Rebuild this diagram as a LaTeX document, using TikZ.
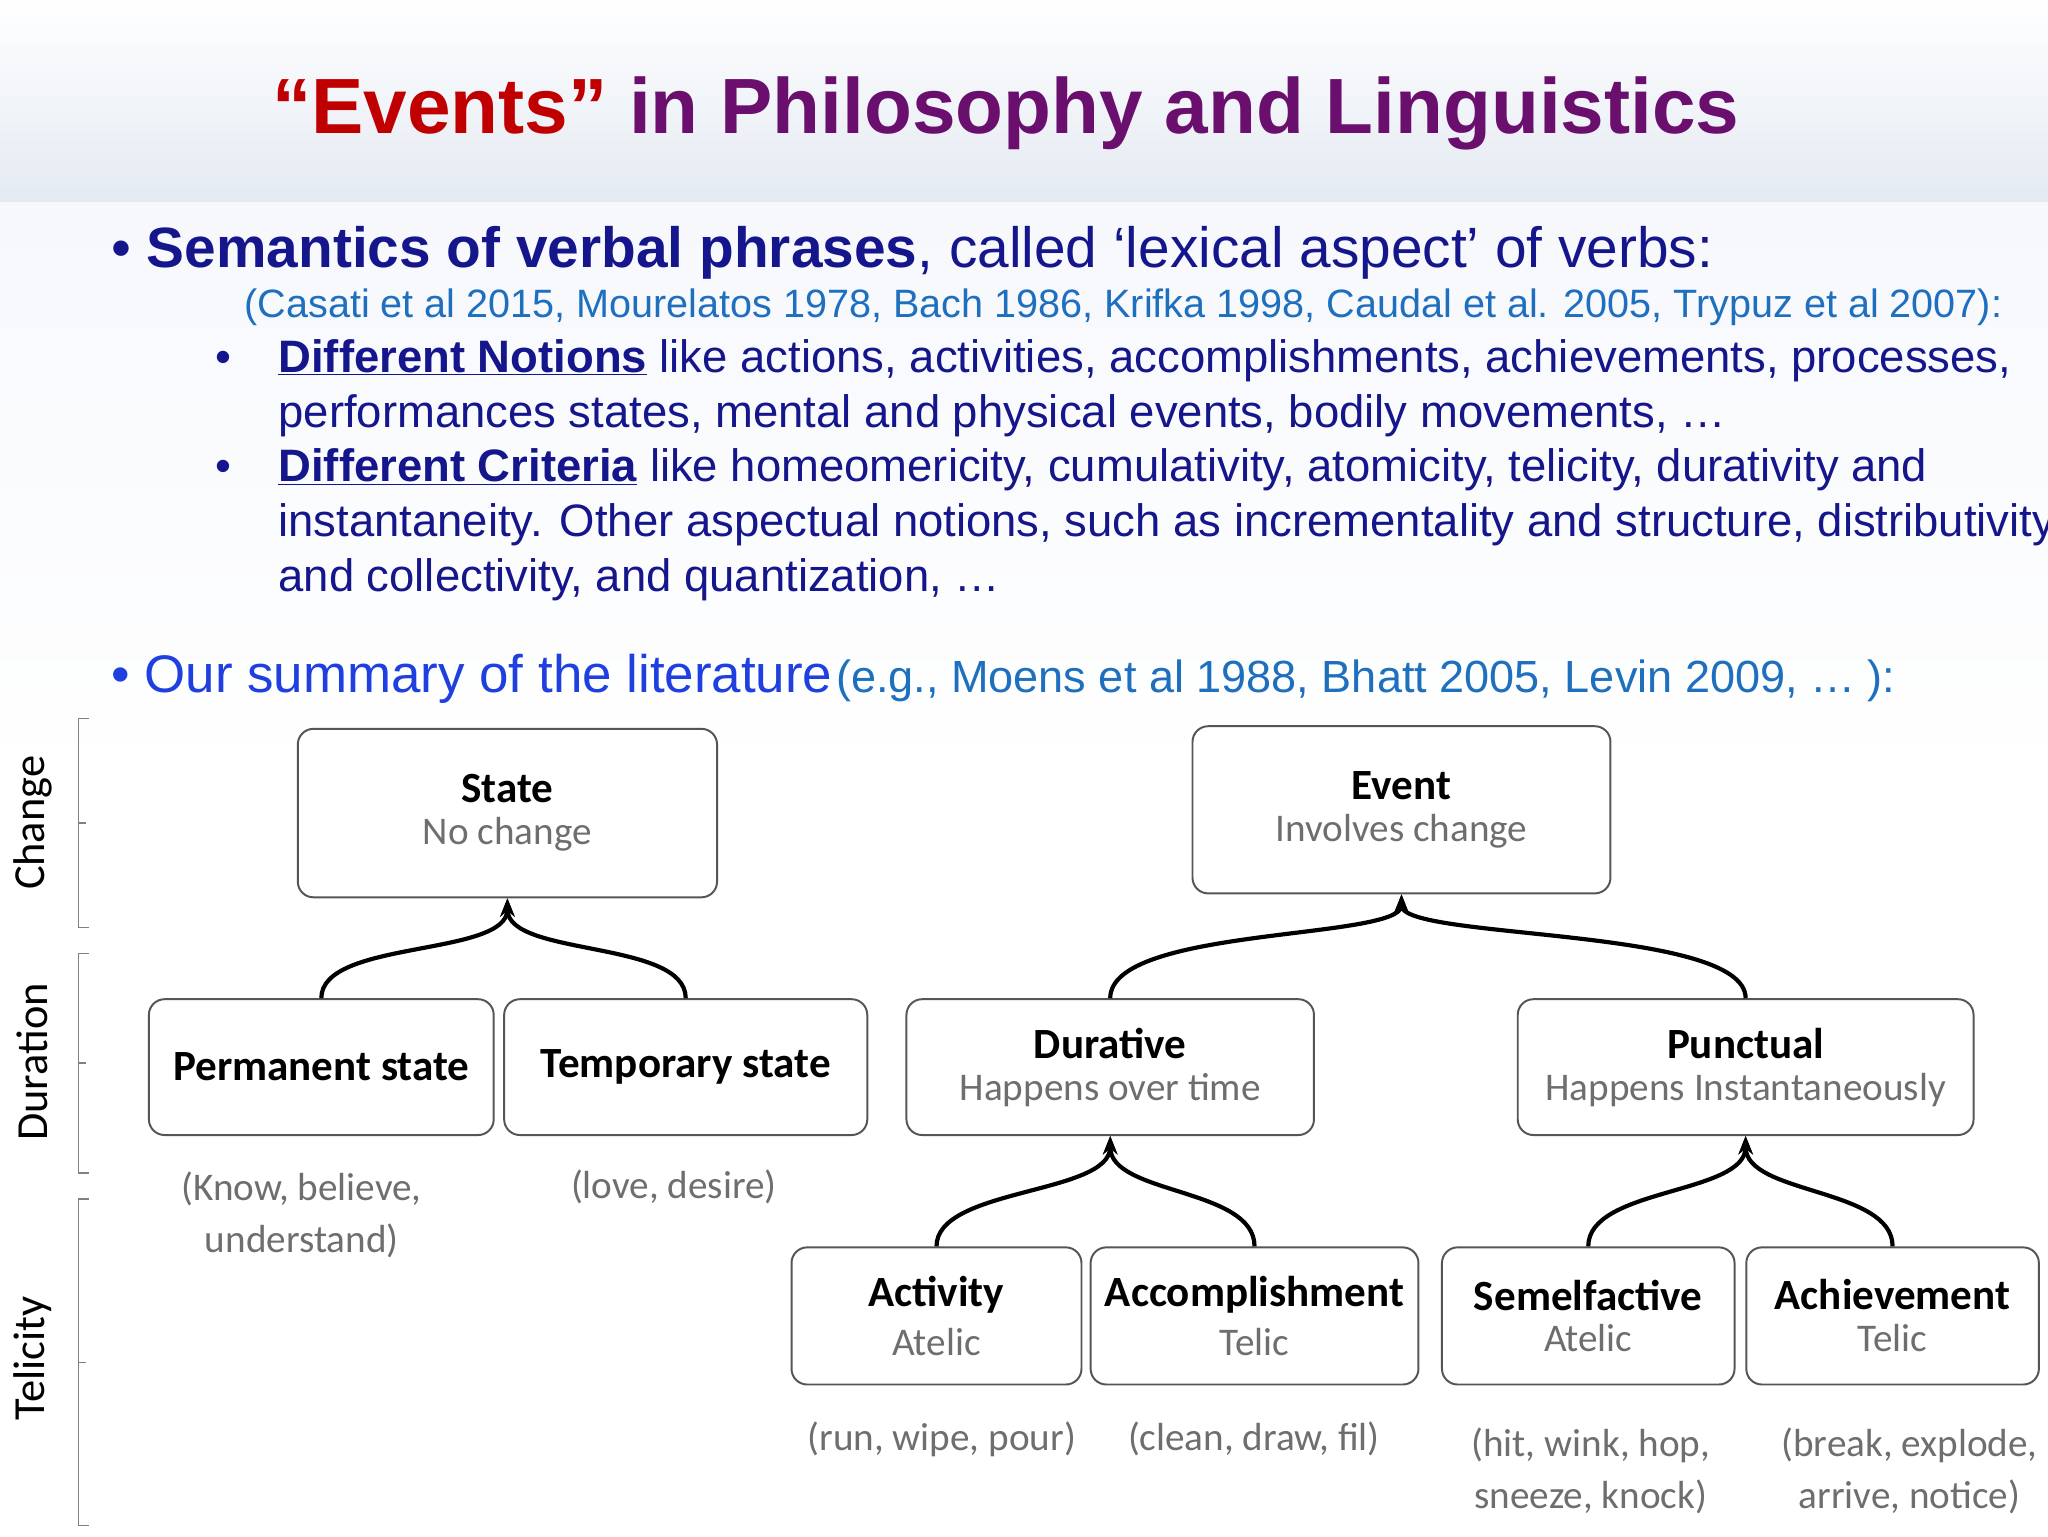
\documentclass[tikz,border=0pt]{standalone}
\usepackage{fontspec}
\setmainfont{Liberation Sans}
\newfontfamily\carl{Carlito}
\definecolor{ttlred}{HTML}{C00000}
\definecolor{ttlpur}{HTML}{6A0F6E}
\definecolor{dblue}{HTML}{16168C}
\definecolor{cblue}{HTML}{1F6FBF}
\definecolor{sblue}{HTML}{1F3FE0}
\definecolor{bxgray}{HTML}{555555}
\definecolor{subgray}{HTML}{6E6E6E}
\usetikzlibrary{arrows.meta}
\tikzset{
  box/.style={draw=bxgray, line width=1.5pt, rounded corners=12pt, fill=white, align=center, inner sep=0pt},
  arr/.style={-{Stealth[length=14pt,width=11pt]}, line width=3.2pt, black},
  ex/.style={text=subgray, align=center, font=\carl\fontsize{30}{40}\selectfont},
  lab/.style={rotate=90, font=\carl\fontsize{34}{40}\selectfont, text=black},
  brk/.style={draw=gray, line width=1.2pt}
}
\newcommand{\bt}[1]{{\carl\bfseries\fontsize{33}{40}\selectfont #1}}
\newcommand{\bs}[1]{{\carl\color{subgray}\fontsize{30}{40}\selectfont #1}}
\begin{document}
\begin{tikzpicture}[x=1pt,y=-1pt]
\useasboundingbox (0,0) rectangle (1568,1176);
\fill[white] (0,0) rectangle (1568,1176);
\fill[top color=white, bottom color={rgb,255:red,228;green,234;blue,242}] (0,0) rectangle (1568,155);
\fill[top color={rgb,255:red,246;green,248;blue,252}, bottom color=white] (0,155) rectangle (1568,600);
\node[anchor=base, inner sep=0pt, font=\bfseries\fontsize{60}{66}\selectfont] (title) at (770,102)
 {\textcolor{ttlred}{“Events”} \textcolor{ttlpur}{in Philosophy and Linguistics}};
\node[anchor=base west, inner sep=0pt, text=dblue, font=\fontsize{43.5}{48}\selectfont] (b1) at (85,205)
 {• \textbf{Semantics of verbal phrases}, called ‘lexical aspect’ of verbs:};
\node[anchor=base west, inner sep=0pt, text=cblue, font=\fontsize{30.3}{34}\selectfont] (cit) at (187,243)
 {(Casati et al 2015, Mourelatos 1978, Bach 1986, Krifka 1998, Caudal et al. 2005, Trypuz et al 2007):};
\begin{scope}[every node/.style={anchor=base west, inner sep=0pt, text=dblue, font=\fontsize{34.8}{38}\selectfont}]
\node (d1) at (165,285) {•};
\node (l1) at (213,285) {\underline{\textbf{Different Notions}} like actions, activities, accomplishments, achievements, processes,};
\node (l2) at (213,327) {performances states, mental and physical events, bodily movements, …};
\node (d2) at (165,369) {•};
\node (l3) at (213,369) {\underline{\textbf{Different Criteria}} like homeomericity, cumulativity, atomicity, telicity, durativity and};
\node (l4) at (213,411) {instantaneity. Other aspectual notions, such as incrementality and structure, distributivity};
\node (l5) at (213,453) {and collectivity, and quantization, …};
\end{scope}
\node[anchor=base west, inner sep=0pt] (b2) at (85,530)
 {\textcolor{sblue}{\fontsize{40.5}{44}\selectfont • Our summary of the literature} \textcolor{cblue}{\fontsize{34.5}{38}\selectfont(e.g., Moens et al 1988, Bhatt 2005, Levin 2009, … ):}};
% side labels
\node[lab] (lc) at (25,630) {Change};
\node[lab] (ld) at (25,813) {Duration};
\node[lab] (lt) at (25,1040) {Telicity};
\draw[brk] (68,550) -- (60,550) -- (60,710) -- (68,710) (60,630) -- (66,630);
\draw[brk] (68,730) -- (60,730) -- (60,898) -- (68,898) (60,814) -- (66,814);
\draw[brk] (68,918) -- (60,918) -- (60,1168) -- (68,1168) (60,1043) -- (66,1043);
% boxes
\node[box, minimum width=321, minimum height=129] (state) at (388.5,622.5) {\bt{State}\\[10pt]\bs{No change}};
\node[box, minimum width=320, minimum height=128] (event) at (1073,620) {\bt{Event}\\[10pt]\bs{Involves change}};
\node[box, minimum width=264, minimum height=104] (perm) at (246,817) {\bt{Permanent state}};
\node[box, minimum width=278, minimum height=104] (temp) at (525,817) {\bt{Temporary state}};
\node[box, minimum width=312, minimum height=104] (dur) at (850,817) {\bt{Durative}\\[10pt]\bs{Happens over time}};
\node[box, minimum width=349, minimum height=104] (pun) at (1336.5,817) {\bt{Punctual}\\[10pt]\bs{Happens Instantaneously}};
\node[box, minimum width=222, minimum height=105] (act) at (717,1007.5) {\bt{Activity}\\[10pt]\bs{Atelic}};
\node[box, minimum width=251, minimum height=105] (acc) at (960.5,1007.5) {\bt{Accomplishment}\\[10pt]\bs{Telic}};
\node[box, minimum width=224, minimum height=105] (sem) at (1216,1007.5) {\bt{Semelfactive}\\[10pt]\bs{Atelic}};
\node[box, minimum width=224, minimum height=105] (ach) at (1449,1007.5) {\bt{Achievement}\\[10pt]\bs{Telic}};
% arrows
\draw[arr] (perm.north) .. controls +(0,-45) and +(0,45) .. (state.south);
\draw[arr] (temp.north) .. controls +(0,-45) and +(0,45) .. (state.south);
\draw[arr] (dur.north) .. controls +(0,-55) and +(0,35) .. (event.south);
\draw[arr] (pun.north) .. controls +(0,-55) and +(0,35) .. (event.south);
\draw[arr] (act.north) .. controls +(0,-45) and +(0,45) .. (dur.south);
\draw[arr] (acc.north) .. controls +(0,-45) and +(0,45) .. (dur.south);
\draw[arr] (sem.north) .. controls +(0,-45) and +(0,45) .. (pun.south);
\draw[arr] (ach.north) .. controls +(0,-45) and +(0,45) .. (pun.south);
% examples
\node[ex] (e1) at (231,930) {(Know, believe,\\understand)};
\node[ex] (e2) at (516,909) {(love, desire)};
\node[ex] (e3) at (721,1102) {(run, wipe, pour)};
\node[ex] (e4) at (960,1102) {(clean, draw, fil)};
\node[ex] (e5) at (1218,1126) {(hit, wink, hop,\\sneeze, knock)};
\node[ex] (e6) at (1462,1126) {(break, explode,\\arrive, notice)};
\end{tikzpicture}
\end{document}
